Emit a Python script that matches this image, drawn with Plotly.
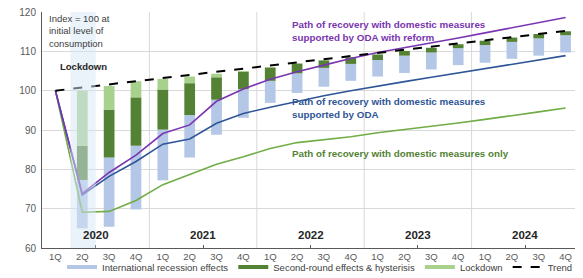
import plotly.graph_objects as go

# ---------------- data ----------------
quarters = ["1Q", "2Q", "3Q", "4Q", "1Q", "2Q", "3Q", "4Q", "1Q", "2Q",
            "3Q", "4Q", "1Q", "2Q", "3Q", "4Q", "1Q", "2Q", "3Q", "4Q"]
years = ["2020", "2021", "2022", "2023", "2024"]

# bar levels (index, initial consumption = 100)
bar_bottom = [None, 65.0, 65.4, 69.8, 77.2, 83.0, 88.8, 93.1, 96.9, 99.4,
              101.0, 102.5, 103.6, 104.5, 105.4, 106.5, 107.1, 108.1, 108.9, 109.7]
intl_top = [None, 77.3, 83.0, 86.0, 90.1, 93.8, 97.7, 100.4, 102.5, 104.4,
            105.8, 106.8, 107.8, 108.9, 109.7, 110.8, 111.6, 112.4, 113.3, 114.1]
second_top = [None, 86.0, 95.2, 98.3, 100.3, 101.9, 103.4, 104.8, 105.9, 106.9,
              107.7, 108.5, 109.2, 110.1, 110.9, 111.8, 112.7, 113.5, 114.4, 115.1]
lockdown_top = [None, 100.0, 101.2, 102.4, 103.0, 103.6, 104.3, 105.0, 105.9, 106.9,
                107.7, 108.5, 109.2, 110.1, 110.9, 111.8, 112.7, 113.5, 114.4, 115.1]

trend = [100.0, 100.8, 101.6, 102.4, 103.2, 104.0, 104.8, 105.6, 106.4, 107.2,
         108.0, 108.8, 109.6, 110.4, 111.2, 112.0, 112.8, 113.6, 114.4, 115.2]
path_reform = [100.0, 73.8, 79.2, 83.6, 89.1, 91.3, 97.3, 100.4, 102.9, 104.8,
               106.5, 108.2, 109.7, 110.9, 112.1, 113.4, 114.7, 116.0, 117.3, 118.6]
path_oda = [100.0, 73.5, 78.2, 82.0, 86.4, 87.7, 91.7, 94.2, 95.8, 97.3,
            98.7, 100.0, 101.2, 102.3, 103.4, 104.5, 105.6, 106.7, 107.8, 108.9]
path_domestic = [100.0, 69.1, 69.3, 72.1, 76.1, 78.6, 81.3, 83.2, 85.3, 86.8,
                 87.5, 88.3, 89.3, 90.1, 90.9, 91.8, 92.7, 93.6, 94.6, 95.6]

legend_names = ["International recession effects", "Second-round effects & hysterisis",
                "Lockdown", "Trend"]

# ---------------- styles ----------------
C_INTL = "#b4c7e7"
C_SECOND = "#548235"
C_LOCK = "#a9d18e"
C_PURPLE = "#7a35b0"
C_BLUE = "#2f5597"
C_GREEN = "#70ad47"
FONT = "Liberation Sans, Arial, sans-serif"

# the page body has an 8px default margin, so the figure is sized to fit the window
W, H = 575, 270

x = list(range(len(quarters)))


def span(lo, hi):
    return [None if (a is None or b is None) else b - a for a, b in zip(lo, hi)]


fig = go.Figure()
BW = 0.4
fig.add_trace(go.Bar(x=x, base=bar_bottom, y=span(bar_bottom, intl_top), width=BW,
                     marker=dict(color=C_INTL, line=dict(width=0)), showlegend=False))
fig.add_trace(go.Bar(x=x, base=intl_top, y=span(intl_top, second_top), width=BW,
                     marker=dict(color=C_SECOND, line=dict(width=0)), showlegend=False))
fig.add_trace(go.Bar(x=x, base=second_top, y=span(second_top, lockdown_top), width=BW,
                     marker=dict(color=C_LOCK, line=dict(width=0)), showlegend=False))

fig.add_trace(go.Scatter(x=x, y=path_domestic, mode="lines",
                         line=dict(color=C_GREEN, width=1.6), showlegend=False))
fig.add_trace(go.Scatter(x=x, y=path_oda, mode="lines",
                         line=dict(color=C_BLUE, width=1.6), showlegend=False))
fig.add_trace(go.Scatter(x=x, y=path_reform, mode="lines",
                         line=dict(color=C_PURPLE, width=1.6), showlegend=False))
fig.add_trace(go.Scatter(x=x, y=trend, mode="lines",
                         line=dict(color="black", width=2, dash="dash"), showlegend=False))

# legend-only entries (line-style swatches like the original)
for name, col, dash, w in [(legend_names[0], C_INTL, "solid", 4),
                           (legend_names[1], C_SECOND, "solid", 4),
                           (legend_names[2], C_LOCK, "solid", 4),
                           (legend_names[3], "black", "dash", 2)]:
    fig.add_trace(go.Scatter(x=[None], y=[None], mode="lines", name=name,
                             line=dict(color=col, width=w, dash=dash)))

# year boundaries (vertical gridlines) and lockdown band
shapes = []
for k in range(1, len(years)):
    shapes.append(dict(type="line", xref="x", yref="paper", x0=4 * k - 0.5, x1=4 * k - 0.5,
                       y0=0, y1=1, line=dict(color="#d9d9d9", width=1), layer="below"))
shapes.append(dict(type="rect", xref="x", yref="paper", x0=0.56, x1=1.5, y0=0, y1=1,
                   fillcolor="#d6e6f6", opacity=0.5, line=dict(width=0), layer="above"))

annotations = []
for k, yr in enumerate(years):
    annotations.append(dict(x=4 * k + 1.5, y=63.3, xref="x", yref="y", text=f"<b>{yr}</b>",
                            showarrow=False, font=dict(size=11.5, color="#262626", family=FONT)))
annotations += [
    dict(x=-0.3, y=115.1, xref="x", yref="y", xanchor="left", align="left", showarrow=False,
         text="Index = 100 at<br>initial level of<br>consumption",
         font=dict(size=9.5, color="#404040", family=FONT)),
    dict(x=1.05, y=106.2, xref="x", yref="y", showarrow=False, text="<b>Lockdown</b>",
         font=dict(size=9.5, color="#262626", family=FONT)),
    dict(x=8.75, y=115.1, xref="x", yref="y", xanchor="left", align="left", showarrow=False,
         text="<b>Path of recovery with domestic measures<br>supported by ODA with reform</b>",
         font=dict(size=9.8, color=C_PURPLE, family=FONT)),
    dict(x=8.75, y=95.6, xref="x", yref="y", xanchor="left", align="left", showarrow=False,
         text="<b>Path of recovery with domestic measures<br>supported by ODA</b>",
         font=dict(size=9.8, color=C_BLUE, family=FONT)),
    dict(x=8.75, y=84.0, xref="x", yref="y", xanchor="left", align="left", showarrow=False,
         text="<b>Path of recovery with domestic measures only</b>",
         font=dict(size=9.8, color="#548235", family=FONT)),
]

fig.update_layout(
    width=W, height=H,
    margin=dict(l=34, r=4, t=4, b=30, autoexpand=False),
    paper_bgcolor="white", plot_bgcolor="white",
    barmode="overlay",
    font=dict(family=FONT, size=10, color="#595959"),
    shapes=shapes, annotations=annotations,
    legend=dict(orientation="h", xref="container", yref="container",
                x=54 / W, xanchor="left", y=1 - 259 / H, yanchor="middle",
                font=dict(size=9.5, color="#404040", family=FONT),
                bgcolor="rgba(0,0,0,0)", itemwidth=30, tracegroupgap=0),
)
fig.update_xaxes(range=[-0.5, len(quarters) - 0.5], tickmode="array", tickvals=x,
                 ticktext=quarters, ticks="", showgrid=False, zeroline=False,
                 showline=True, linecolor="#595959", linewidth=1, automargin=False,
                 tickfont=dict(size=9.5, color="#595959"),
                 minor=dict(tickmode="array", tickvals=[4 * k + 1.5 for k in range(len(years))],
                            ticks="inside", ticklen=3, tickcolor="#595959", showgrid=False))
fig.update_yaxes(range=[60, 120], tickvals=[60, 70, 80, 90, 100, 110, 120], ticks="",
                 showgrid=True, gridcolor="#d9d9d9", gridwidth=1, zeroline=False,
                 showline=True, linecolor="#595959", linewidth=1, automargin=False,
                 ticklabelstandoff=3, ticklabeloverflow="allow",
                 tickfont=dict(size=10, color="#595959"))

fig.write_html("out.html")
